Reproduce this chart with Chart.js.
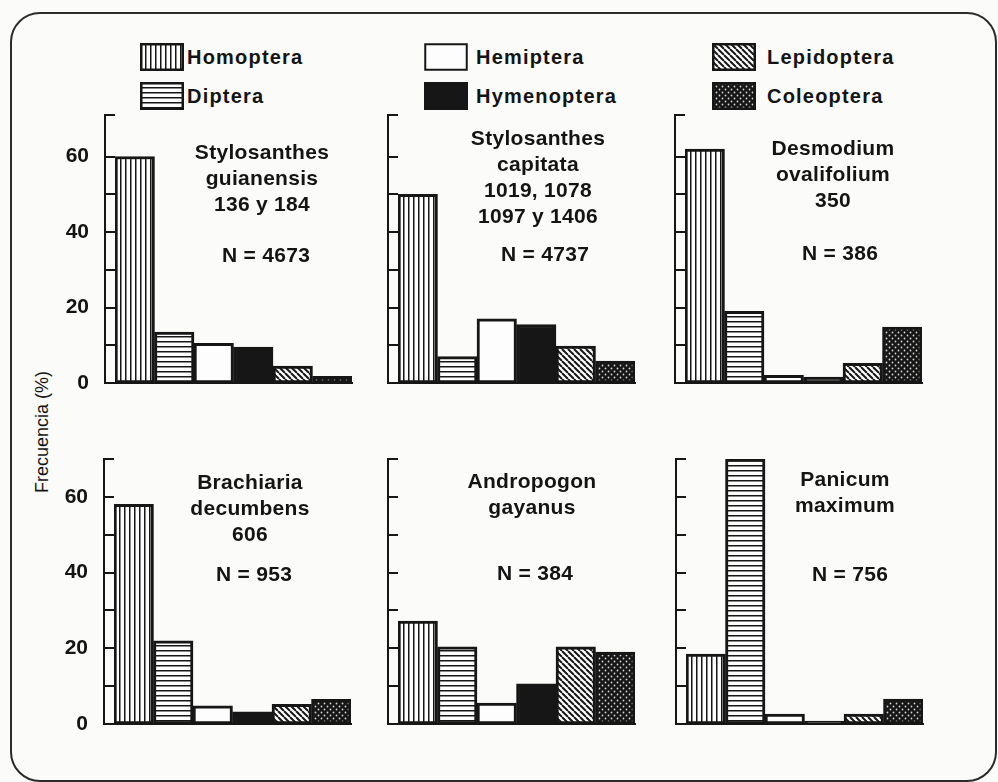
<!DOCTYPE html>
<html lang="es">
<head>
<meta charset="utf-8">
<title>Frecuencia de órdenes de insectos</title>
<script src="https://cdn.jsdelivr.net/npm/chart.js@4.4.1/dist/chart.umd.min.js"></script>
<style>
  body { margin: 0; background: #fbfbf9; }
  #lienzo { position: relative; width: 998px; height: 782px; overflow: hidden;
            font-family: "Liberation Sans", Arial, sans-serif; color: #141414; }
  .marco { position: absolute; left: 10px; top: 12px; width: 983px; height: 766px;
           border: 2px solid #2b2b2b; border-radius: 30px; }
  .leyenda { position: absolute; font-size: 20px; font-weight: bold; letter-spacing: 1.2px;
             line-height: 28px; white-space: nowrap; }
  .muestra { position: absolute; }
  .titulo { position: absolute; width: 220px; text-align: center; font-size: 21px;
            font-weight: bold; letter-spacing: 0.3px; line-height: 26px; white-space: nowrap; }
  .eje-y { position: absolute; left: 42px; top: 432px; font-size: 18px; white-space: nowrap;
           transform: translate(-50%, -50%) rotate(-90deg); }
  canvas { position: absolute; }
</style>
</head>
<body>
<div id="lienzo">
  <div class="marco"></div>
  <div class="eje-y">Frecuencia (%)</div>
</div>
<script>
// Órdenes de insectos (categorías de cada panel)
const ordenes = ['Homoptera', 'Diptera', 'Hemiptera', 'Hymenoptera', 'Lepidoptera', 'Coleoptera'];

// Frecuencia (%) de cada orden, por especie forrajera
const sGuianensis = [60, 13.5, 10.5, 9.5, 4.5, 1.8];
const sCapitata = [50, 7, 17, 15.5, 9.8, 5.8];
const dOvalifolium = [62, 19, 2, 1.6, 5.2, 14.8];
const bDecumbens = [58, 22, 4.8, 3.2, 5.2, 6.5];
const aGayanus = [27.2, 20.4, 5.5, 10.6, 20.4, 19];
const pMaximum = [18.5, 70, 2.6, 0.8, 2.6, 6.6];

const titulos = [
    ['Stylosanthes', 'guianensis', '136 y 184'],
    ['Stylosanthes', 'capitata', '1019, 1078', '1097 y 1406'],
    ['Desmodium', 'ovalifolium', '350'],
    ['Brachiaria', 'decumbens', '606'],
    ['Andropogon', 'gayanus'],
    ['Panicum', 'maximum']
];
const muestras = [4673, 4737, 386, 953, 384, 756];

// Marcas del eje y
const marcasY = [0, 10, 20, 30, 40, 50, 60];
const etiquetasY = [0, 20, 40, 60];

const valores = [sGuianensis, sCapitata, dOvalifolium, bDecumbens, aGayanus, pMaximum];

// Posición de cada panel en la página (px)
const paneles = [
    { ejeX: 105, tope: 115, cero: 383, max: 71, tx: 262, ty: 152, nx: 266, ny: 255 },
    { ejeX: 388, tope: 115, cero: 383, max: 71, tx: 538, ty: 138, nx: 545, ny: 254 },
    { ejeX: 675, tope: 115, cero: 383, max: 71, tx: 833, ty: 148, nx: 840, ny: 253 },
    { ejeX: 104, tope: 459, cero: 724, max: 70, tx: 250, ty: 482, nx: 254, ny: 574 },
    { ejeX: 388, tope: 459, cero: 724, max: 70, tx: 532, ty: 481, nx: 535, ny: 573 },
    { ejeX: 676, tope: 459, cero: 724, max: 70, tx: 845, ty: 479, nx: 850, ny: 574 }
];
const ANCHO_EJE_Y = 60;   // eje con etiquetas
const LARGO_MARCA = 10;   // eje interior que dibuja las marcas hacia dentro
const ANCHO_AREA = 237;
const MARGEN_SUP = 24;
const MARGEN_DER = 6;
const ALTO_EJE_X = 24;

const lienzo = document.getElementById('lienzo');
const negro = '#161616';

// Tramas de relleno
function crearTrama(tipo) {
    const c = document.createElement('canvas');
    const s = tipo === 'puntos' || tipo === 'diagonal' ? 6 : 5;
    c.width = s; c.height = s;
    const g = c.getContext('2d');
    g.fillStyle = tipo === 'negro' || tipo === 'puntos' ? negro : '#fdfdfd';
    g.fillRect(0, 0, s, s);
    g.fillStyle = negro;
    if (tipo === 'vertical') g.fillRect(0, 0, 1.5, s);
    if (tipo === 'horizontal') g.fillRect(0, 0, s, 1.5);
    if (tipo === 'diagonal') {
        g.strokeStyle = negro;
        g.lineWidth = 2;
        for (let k = -1; k <= 1; k++) {
            g.beginPath();
            g.moveTo(k * s, 0);
            g.lineTo(k * s + s, s);
            g.stroke();
        }
    }
    if (tipo === 'puntos') {
        g.fillStyle = '#d4d4d4';
        g.beginPath(); g.arc(1.5, 1.5, 0.9, 0, Math.PI * 2); g.fill();
        g.beginPath(); g.arc(4.5, 4.5, 0.9, 0, Math.PI * 2); g.fill();
    }
    return g.createPattern(c, 'repeat');
}
const tipos = ['vertical', 'horizontal', 'blanco', 'negro', 'diagonal', 'puntos'];
const rellenos = tipos.map(crearTrama);

// Leyenda
const leyendaX = [140, 424, 712];
const textoX = [187, 476, 767];
const filaY = [43, 82];
ordenes.forEach((nombre, k) => {
    const col = Math.floor(k / 2), fila = k % 2;
    const m = document.createElement('canvas');
    m.width = 44; m.height = 28;
    m.className = 'muestra';
    m.style.left = leyendaX[col] + 'px';
    m.style.top = filaY[fila] + 'px';
    lienzo.appendChild(m);
    const g = m.getContext('2d');
    g.fillStyle = rellenos[k];
    g.fillRect(0, 0, 44, 28);
    g.strokeStyle = negro;
    g.lineWidth = k === 2 ? 2 : 2.5;
    g.strokeRect(1.25, 1.25, 41.5, 25.5);

    const t = document.createElement('div');
    t.className = 'leyenda';
    t.textContent = nombre;
    t.style.left = textoX[col] + 'px';
    t.style.top = filaY[fila] + 'px';
    lienzo.appendChild(t);
});

// Paneles
paneles.forEach((p, i) => {
    const canvas = document.createElement('canvas');
    canvas.width = ANCHO_EJE_Y + LARGO_MARCA + ANCHO_AREA + MARGEN_DER;
    canvas.height = MARGEN_SUP + (p.cero - p.tope) + ALTO_EJE_X;
    canvas.style.left = (p.ejeX - ANCHO_EJE_Y) + 'px';
    canvas.style.top = (p.tope - MARGEN_SUP) + 'px';
    lienzo.appendChild(canvas);

    const marcas = ax => { ax.ticks = marcasY.concat([p.max]).map(v => ({ value: v })); };

    new Chart(canvas.getContext('2d'), {
        type: 'bar',
        data: {
            datasets: [{
                data: valores[i].map((v, k) => ({ x: k, y: v })),
                backgroundColor: rellenos,
                borderColor: negro,
                borderWidth: 3,
                borderSkipped: false,
                barPercentage: 1,
                categoryPercentage: 1,
                yAxisID: 'y'
            }]
        },
        options: {
            responsive: false,
            animation: false,
            events: [],
            layout: { padding: { top: MARGEN_SUP, right: MARGEN_DER, left: 0, bottom: 0 } },
            plugins: { legend: { display: false }, tooltip: { enabled: false } },
            scales: {
                x: {
                    type: 'linear',
                    offset: false,
                    min: -0.5,
                    max: 5.5,
                    afterBuildTicks: ax => { ax.ticks = ordenes.map((_, k) => ({ value: k })); },
                    afterFit: ax => { ax.height = ALTO_EJE_X; },
                    ticks: { display: false },
                    grid: { display: false },
                    border: { display: true, color: negro, width: 2 }
                },
                y: {
                    position: 'left',
                    weight: 1,
                    min: 0,
                    max: p.max,
                    afterBuildTicks: marcas,
                    afterFit: ax => { ax.width = ANCHO_EJE_Y; },
                    ticks: {
                        autoSkip: false,
                        padding: 8,
                        color: '#141414',
                        font: { family: '"Liberation Sans", Arial, sans-serif', size: 21, weight: 'bold' },
                        callback: v => (i % 3 === 0 && etiquetasY.includes(v)) ? String(v) : ''
                    },
                    grid: { display: false },
                    border: { display: true, color: negro, width: 2 }
                },
                marcas: {
                    type: 'linear',
                    position: 'left',
                    weight: 0,
                    min: 0,
                    max: p.max,
                    afterBuildTicks: marcas,
                    afterFit: ax => { ax.width = LARGO_MARCA; },
                    ticks: { display: false },
                    grid: { drawOnChartArea: false, drawTicks: true, tickLength: LARGO_MARCA, color: negro, lineWidth: 2 },
                    border: { display: false }
                }
            }
        }
    });

    // Título del panel
    const t = document.createElement('div');
    t.className = 'titulo';
    t.innerHTML = titulos[i].join('<br>');
    t.style.left = (p.tx - 110) + 'px';
    t.style.top = (p.ty - 13) + 'px';
    lienzo.appendChild(t);

    const n = document.createElement('div');
    n.className = 'titulo';
    n.textContent = 'N = ' + muestras[i];
    n.style.left = (p.nx - 110) + 'px';
    n.style.top = (p.ny - 13) + 'px';
    lienzo.appendChild(n);
});
</script>
</body>
</html>
